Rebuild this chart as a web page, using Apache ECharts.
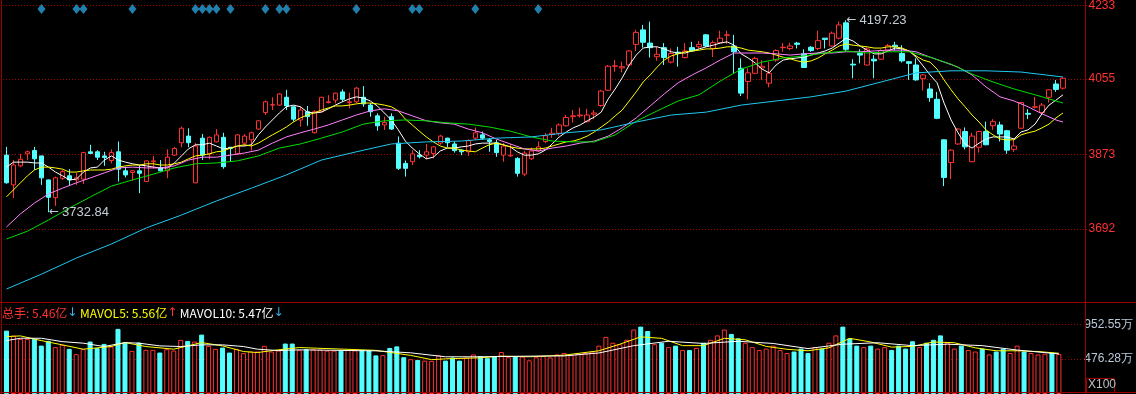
<!DOCTYPE html>
<html><head><meta charset="utf-8">
<script src="https://cdn.jsdelivr.net/npm/echarts@6/dist/echarts.min.js"></script>
<style>html,body{margin:0;padding:0;background:#000;overflow:hidden}#c{width:1136px;height:394px}</style>
</head><body><div id="c"></div>
<script>
// ---- data ----
const opens  = [3871,3799,3845,3874,3882,3869,3811,3768,3815,3821,3811,3813,3879,3879,3869,3858,3879,3833,3829,3833,3807,3855,3841,3833,3871,3901,3917,3804,3912,3874,3903,3914,3890,3874,3900,3908,3934,3974,3992,3992,4011,3988,3956,3976,3925,3976,3998,4004,4024,3998,4000,4011,3992,3966,3944,3964,3900,3851,3855,3871,3871,3875,3900,3912,3898,3883,3879,3912,3920,3908,3901,3871,3869,3863,3825,3862,3881,3904,3921,3924,3942,3964,3966,3952,3970,3991,4028,4086,4082,4089,4139,4174,4142,4109,4131,4096,4120,4107,4131,4133,4162,4129,4143,4161,4135,4081,4049,4069,4082,4045,4101,4131,4129,4142,4116,4132,4129,4154,4135,4154,4191,4091,4117,4089,4103,4103,4125,4137,4117,4097,4089,4056,4031,4006,3908,3853,3898,3928,3855,3890,3928,3942,3944,3930,3885,3936,3972,3987,3974,4011,4043,4033];
const closes = [3804,3847,3861,3879,3862,3816,3769,3816,3831,3811,3816,3877,3875,3866,3865,3877,3837,3823,3833,3827,3857,3857,3833,3866,3887,3936,3901,3893,3871,3914,3920,3843,3887,3920,3917,3925,3954,4000,3993,4019,3990,3958,3980,3964,3976,4011,4000,4021,4006,4000,4033,3995,3976,3942,3950,3934,3839,3839,3874,3867,3879,3891,3917,3901,3882,3879,3906,3925,3912,3904,3877,3893,3871,3827,3876,3881,3891,3918,3924,3944,3962,3966,3968,3968,3973,4026,4086,4087,4085,4123,4168,4144,4131,4115,4107,4117,4117,4123,4123,4139,4135,4143,4154,4162,4121,4021,4070,4105,4086,4069,4124,4132,4135,4139,4083,4124,4148,4151,4166,4186,4127,4089,4113,4128,4099,4124,4136,4133,4099,4093,4053,4065,4010,3960,3817,3883,3934,3891,3917,3928,3896,3952,3922,3883,3893,3998,3970,3988,3992,4029,4030,4057];
const lows   = [3802,3767,3842,3859,3835,3799,3732.84,3748,3811,3796,3799,3801,3874,3859,3845,3851,3807,3817,3809,3779,3806,3839,3831,3815,3869,3890,3890,3803,3859,3861,3902,3838,3855,3871,3893,3882,3932,3968,3980,3990,3980,3952,3940,3942,3924,3974,3996,3996,4000,3984,3997,3988,3964,3930,3932,3932,3835,3819,3847,3863,3861,3863,3896,3890,3877,3871,3869,3908,3908,3879,3867,3855,3867,3819,3820,3859,3879,3900,3913,3918,3940,3950,3962,3950,3958,3988,4026,4073,4071,4087,4123,4131,4107,4099,4089,4093,4085,4105,4121,4129,4133,4108,4141,4140,4069,4014,4006,4067,4053,4035,4097,4121,4125,4129,4082,4121,4125,4129,4133,4151,4121,4057,4093,4088,4057,4101,4124,4124,4095,4053,4051,4027,4000,3958,3796,3813,3896,3885,3854,3877,3895,3932,3904,3874,3879,3935,3958,3984,3971,3998,4024,4030];
const highs  = [3891,3859,3874,3882,3891,3870,3812,3819,3835,3837,3828,3879,3896,3883,3879,3885,3904,3843,3835,3847,3858,3869,3859,3885,3891,3940,3936,3900,3922,3916,3934,3925,3890,3922,3922,3928,3955,4003,4011,4021,4029,3990,3988,3990,3980,4012,4016,4022,4030,4022,4036,4038,3997,3972,3964,3972,3916,3858,3883,3883,3898,3893,3920,3913,3904,3885,3909,3938,3928,3912,3908,3900,3898,3866,3881,3889,3904,3924,3937,3948,3968,3980,3986,3983,3980,4029,4089,4101,4097,4125,4174,4186,4194,4133,4142,4129,4133,4142,4145,4147,4164,4148,4172,4172,4162,4105,4081,4109,4101,4097,4127,4142,4143,4145,4127,4135,4172,4154,4170,4194,4197.23,4103,4127,4132,4113,4127,4140,4145,4137,4099,4105,4067,4045,4024,3909,3885,3936,3938,3925,3930,3952,3958,3952,3932,3908,3999,3982,4012,3997,4030,4053,4059];
const volumes = [8.65,7.97,7.52,7.52,7.52,6.61,7.25,6.40,6.71,6.16,5.44,6.12,7.16,6.26,6.84,6.48,8.89,7.02,5.89,7.02,6.03,6.03,5.66,6.12,5.93,7.39,7.25,7.16,8.11,6.57,6.16,6.34,5.66,6.16,5.58,5.80,5.80,6.57,5.80,5.93,6.89,6.89,6.03,6.11,6.11,6.06,5.92,5.92,5.92,6.01,5.96,5.96,5.96,5.27,5.31,6.29,6.50,5.02,4.75,4.65,4.56,4.52,5.27,4.56,4.98,4.56,4.98,5.40,5.17,4.89,5.17,5.73,5.02,5.12,5.12,4.60,5.02,5.2,5.0,5.4,5.6,5.3,5.5,5.6,5.8,6.6,7.8,7.0,6.8,7.4,8.8,9.2,8.6,6.8,7.0,6.4,6.6,6.0,6.0,6.3,7.0,7.4,8.0,8.8,8.2,7.6,7.0,6.4,6.0,6.2,6.6,6.0,5.6,5.8,6.2,5.6,6.4,6.2,7.0,8.0,9.2,7.6,6.6,6.4,6.6,6.2,6.4,6.0,6.6,6.2,7.2,6.4,7.0,7.4,8.0,7.0,6.2,6.6,6.0,5.8,6.2,5.4,5.8,6.2,5.6,6.6,5.8,5.6,5.4,5.5,5.6,5.46];
const ma5  = [3842,3854,3854,3854,3852,3852,3842,3830,3821,3811,3813,3830,3840,3842,3859,3869,3859,3854,3850,3847,3845,3842,3840,3840,3852,3869,3886,3896,3896,3900,3893,3886,3888,3893,3893,3896,3920,3939,3956,3973,3988,3992,3988,3975,3973,3975,3983,3992,4000,4007,4012,4009,4002,3990,3973,3956,3932,3905,3888,3874,3862,3866,3881,3888,3888,3891,3893,3898,3900,3900,3900,3896,3891,3879,3871,3871,3874,3883,3898,3915,3927,3937,3944,3954,3963,3975,4007,4031,4058,4089,4113,4130,4133,4133,4128,4121,4118,4118,4123,4128,4133,4137,4142,4145,4137,4116,4106,4094,4079,4070,4089,4101,4104,4106,4108,4113,4118,4123,4130,4142,4154,4147,4135,4125,4116,4116,4123,4130,4128,4123,4108,4087,4065,4046,3997,3956,3925,3898,3888,3900,3910,3915,3915,3915,3910,3927,3932,3946,3971,3992,4004,4017];
const ma10 = [3770,3787,3804,3821,3835,3842,3842,3840,3837,3830,3830,3833,3835,3835,3835,3837,3842,3845,3847,3847,3850,3850,3847,3847,3850,3854,3862,3869,3871,3874,3879,3881,3888,3893,3896,3893,3900,3910,3920,3929,3939,3951,3961,3968,3973,3980,3985,3990,3990,3992,3995,3997,3997,3995,3992,3988,3978,3958,3944,3929,3915,3903,3893,3888,3888,3883,3881,3879,3888,3896,3900,3896,3891,3888,3886,3886,3886,3888,3893,3898,3903,3905,3910,3917,3927,3939,3951,3966,3980,4002,4024,4048,4065,4084,4101,4111,4116,4121,4123,4125,4128,4128,4130,4133,4133,4130,4125,4123,4121,4118,4113,4108,4104,4099,4096,4099,4106,4116,4125,4135,4140,4137,4135,4133,4130,4130,4133,4133,4130,4123,4111,4101,4096,4079,4053,4029,4007,3988,3968,3951,3932,3920,3910,3908,3908,3920,3925,3929,3937,3946,3961,3973];
const ma20 = [[0,3697],[2,3729],[4,3755],[6,3777],[8,3791],[10,3804],[12,3816],[14,3828],[16,3840],[18,3842],[20,3840],[22,3840],[24,3845],[26,3859],[28,3866],[30,3866],[32,3871],[34,3876],[36,3883],[38,3900],[40,3915],[42,3925],[44,3934],[46,3944],[48,3956],[50,3968],[52,3978],[54,3983],[56,3978],[58,3966],[60,3954],[62,3949],[64,3946],[66,3934],[68,3925],[70,3910],[72,3898],[74,3886],[76,3881],[78,3888],[80,3893],[82,3900],[84,3905],[86,3917],[88,3937],[90,3961],[92,3990],[94,4019],[96,4046],[98,4065],[100,4082],[102,4101],[104,4118],[106,4118],[108,4118],[110,4116],[112,4113],[114,4116],[116,4118],[118,4118],[120,4121],[122,4121],[124,4123],[126,4125],[128,4125],[130,4121],[132,4108],[134,4096],[136,4084],[138,4065],[140,4036],[142,4012],[144,4002],[146,3988],[148,3971],[150,3956],[151,3951]];
const ma30 = [[0,3668],[3,3687],[6,3714],[9,3743],[12,3770],[15,3796],[18,3811],[21,3825],[24,3840],[27,3850],[30,3852],[33,3857],[36,3869],[39,3888],[42,3898],[45,3912],[48,3927],[51,3946],[54,3954],[57,3956],[60,3954],[63,3949],[66,3946],[69,3939],[72,3929],[75,3915],[78,3905],[81,3903],[84,3903],[87,3920],[90,3953],[93,3978],[96,4002],[99,4017],[102,4050],[105,4079],[108,4096],[111,4106],[114,4111],[117,4118],[120,4123],[123,4118],[126,4121],[129,4121],[132,4108],[135,4091],[138,4067],[141,4048],[144,4031],[147,4017],[150,4002],[151,3997]];
const ma60 = [[0,3547],[5,3583],[10,3622],[15,3656],[20,3695],[25,3726],[30,3760],[35,3791],[40,3823],[45,3859],[50,3879],[55,3898],[60,3903],[65,3905],[70,3912],[75,3915],[80,3925],[85,3932],[90,3951],[95,3968],[100,3975],[105,3992],[110,4002],[115,4012],[120,4026],[125,4048],[130,4070],[135,4075],[140,4075],[145,4072],[150,4062],[151,4060]];
const mavol5  = [[0,7.84],[2,7.93],[5,7.29],[8,6.71],[11,6.12],[15,6.48],[17,7.02],[20,6.48],[24,6.12],[28,7.02],[31,6.57],[34,5.80],[36,5.66],[39,6.03],[42,6.34],[53,5.96],[58,5.27],[61,4.69],[63,4.80],[68,4.94],[71,5.17],[75,5.08],[80,5.3],[85,5.9],[88,6.8],[91,7.8],[94,7.6],[97,6.6],[100,6.6],[103,7.6],[106,7.4],[109,6.5],[112,6.1],[115,5.9],[118,6.3],[121,7.6],[124,7.1],[127,6.4],[130,6.5],[133,7.1],[136,7.0],[139,6.3],[142,5.9],[145,5.9],[148,5.8],[151,5.56]];
const mavol10 = [[0,7.29],[2,7.61],[5,7.61],[8,7.15],[11,6.94],[14,6.48],[17,7.02],[19,6.94],[22,6.57],[25,6.48],[28,6.71],[31,6.71],[34,6.48],[36,6.12],[39,5.93],[42,6.03],[53,5.89],[58,5.62],[63,5.08],[68,5.08],[75,5.17],[80,5.2],[85,5.6],[90,6.6],[95,7.2],[100,6.9],[105,7.2],[110,6.9],[115,6.2],[120,6.8],[125,7.0],[130,6.6],[135,6.8],[140,6.6],[145,6.0],[151,5.47]];
const signalIdx = [5,10,11,18,27,28,29,30,32,37,39,40,50,58,59,67,76];
const priceTicks = [4233, 4055, 3873, 3692];
const volTickLabels = ['476.28万', '952.55万'];
const volTickStep = 4.7628;
const extremes = [{idx:120, value:4197.23}, {idx:6, value:3732.84}];
const legendText = {vol:'5.46亿', mavol5:'5.56亿', mavol10:'5.47亿'};

// ---- layout / styling ----
const SLOTS = 155;
const categories = Array.from({length: SLOTS}, (_, i) => 'D' + (i + 1));
const RED = '#ff3232', CYAN = '#54ffff', FRAME = '#990000';
const PRICE_MIN = 3515.6, PRICE_MAX = 4246.3, SIGNAL_LEVEL = 4224.5;
const VOL_MAX = 12.56;
const CJK = 'Noto Sans CJK SC', LATIN = 'Liberation Sans, Arial, sans-serif';

const candleData = opens.map((o, i) => [o, closes[i], lows[i], highs[i]]);
const volData = volumes.map((v, i) => ({
  value: v,
  itemStyle: closes[i] >= opens[i]
    ? {color: '#000', borderColor: RED, borderWidth: 1}
    : {color: CYAN, borderColor: CYAN, borderWidth: 1}
}));
const hidden = {axisLine:{show:false}, axisTick:{show:false}, axisLabel:{show:false}, splitLine:{show:false}};
const line = (data, color, xi, yi) => ({type:'line', data, xAxisIndex:xi, yAxisIndex:yi, symbol:'none', showSymbol:false, silent:true, z:4,
  lineStyle:{color, width:1}, emphasis:{disabled:true}});

const chart = echarts.init(document.getElementById('c'), null, {renderer:'canvas'});
chart.setOption({
  backgroundColor: '#000',
  animation: false,
  title: {
    left: 2, top: 307, padding: 0, itemGap: 0,
    text: '{r|总手: ' + legendText.vol + '}{c|↓} {y|MAVOL5: ' + legendText.mavol5 + '}{r2|↑} {w|MAVOL10: ' + legendText.mavol10 + '}{c|↓}',
    textStyle: {fontSize: 12, fontWeight: 'normal', fontFamily: CJK,
      rich: {r:{color:RED, fontSize:12, fontFamily:CJK},
             r2:{color:RED, fontSize:12, fontFamily:'DejaVu Sans, sans-serif'},
             c:{color:'#3cb4f0', fontSize:12, fontFamily:'DejaVu Sans, sans-serif'},
             y:{color:'#ffff00', fontSize:12, fontFamily:CJK}, w:{color:'#ffffff', fontSize:12, fontFamily:CJK}}}
  },
  grid: [
    {left: 3, right: 48.5, top: 0, height: 302},
    {left: 3, right: 48.5, top: 302, height: 92.3}
  ],
  xAxis: [
    Object.assign({type:'category', data:categories, gridIndex:0, boundaryGap:true}, hidden),
    Object.assign({type:'category', data:categories, gridIndex:1, boundaryGap:true}, hidden)
  ],
  yAxis: [
    Object.assign({type:'value', gridIndex:0, min:PRICE_MIN, max:PRICE_MAX, position:'right'}, hidden),
    {type:'value', gridIndex:1, min:0, max:VOL_MAX, interval:volTickStep, position:'right',
     axisLine:{show:false}, axisTick:{show:false},
     splitLine:{show:true, lineStyle:{color:'#a00000', type:[1,2], width:1}},
     axisLabel:{show:true, margin:1, color:'#b9c8d8', fontSize:12, fontFamily:LATIN,
       showMinLabel:false, showMaxLabel:false,
       formatter: v => { const k = Math.round(v / volTickStep); return volTickLabels[k - 1] || ''; }}}
  ],
  series: [
    {type:'candlestick', name:'K', data:candleData, xAxisIndex:0, yAxisIndex:0, barWidth:5, silent:true, z:3,
     itemStyle:{color:'#000', color0:CYAN, borderColor:RED, borderColor0:CYAN, borderWidth:1},
     emphasis:{disabled:true},
     markLine:{silent:true, symbol:['none','none'], animation:false, z:1,
       lineStyle:{color:'#a00000', type:[1,2], width:1},
       label:{show:true, position:'end', distance:1, color:RED, fontSize:12, fontFamily:LATIN,
              formatter: p => String(p.value)},
       emphasis:{disabled:true},
       data: priceTicks.map(v => ({yAxis: v}))},
     markPoint:{silent:true, symbol:'circle', symbolSize:1, itemStyle:{color:'rgba(0,0,0,0)'}, animation:false,
       label:{show:true, position:'right', distance:0, color:'#c4ccd6', fontSize:12, fontFamily:LATIN,
              formatter: p => '{a|←}{b|' + p.value + '}',
              rich:{a:{fontFamily:'DejaVu Sans, sans-serif', fontSize:12, color:'#c4ccd6', width:13},
                    b:{fontFamily:LATIN, fontSize:13, color:'#c4ccd6'}}},
       data: extremes.map(e => ({coord:[categories[e.idx], e.value], value:e.value}))}
    },
    line(ma5, '#ffffff', 0, 0),
    line(ma10, '#ffff00', 0, 0),
    line(ma20, '#ff80ff', 0, 0),
    line(ma30, '#00e000', 0, 0),
    line(ma60, '#1ec8f0', 0, 0),
    {type:'scatter', data: signalIdx.map(i => [i, SIGNAL_LEVEL]), xAxisIndex:0, yAxisIndex:0, symbol:'diamond',
     symbolSize:[8,10], itemStyle:{color:'#2a9fd6'}, silent:true, z:5},
    {type:'bar', data:volData, xAxisIndex:1, yAxisIndex:1, barWidth:5, silent:true, z:3},
    line(mavol5, '#ffff00', 1, 1),
    line(mavol10, '#ffffff', 1, 1)
  ],
  graphic: [
    {type:'line', silent:true, z:100, shape:{x1:1.5, y1:0, x2:1.5, y2:394}, style:{stroke:FRAME, lineWidth:1}},
    {type:'line', silent:true, z:100, shape:{x1:1085.5, y1:0, x2:1085.5, y2:394}, style:{stroke:FRAME, lineWidth:1}},
    {type:'line', silent:true, z:100, shape:{x1:0, y1:302.5, x2:1136, y2:302.5}, style:{stroke:FRAME, lineWidth:1}},
    {type:'line', silent:true, z:100, shape:{x1:0, y1:392.5, x2:1136, y2:392.5}, style:{stroke:FRAME, lineWidth:1}},
    {type:'rect', silent:true, z:100, shape:{x:1086.5, y:378.5, width:28, height:14}, style:{fill:'#000', stroke:FRAME, lineWidth:1}},
    {type:'text', silent:true, z:101, x:1088, y:379, style:{text:'X100', fill:'#c0c0c0', font:'12px Liberation Sans, Arial, sans-serif'}}
  ]
});
</script></body></html>
